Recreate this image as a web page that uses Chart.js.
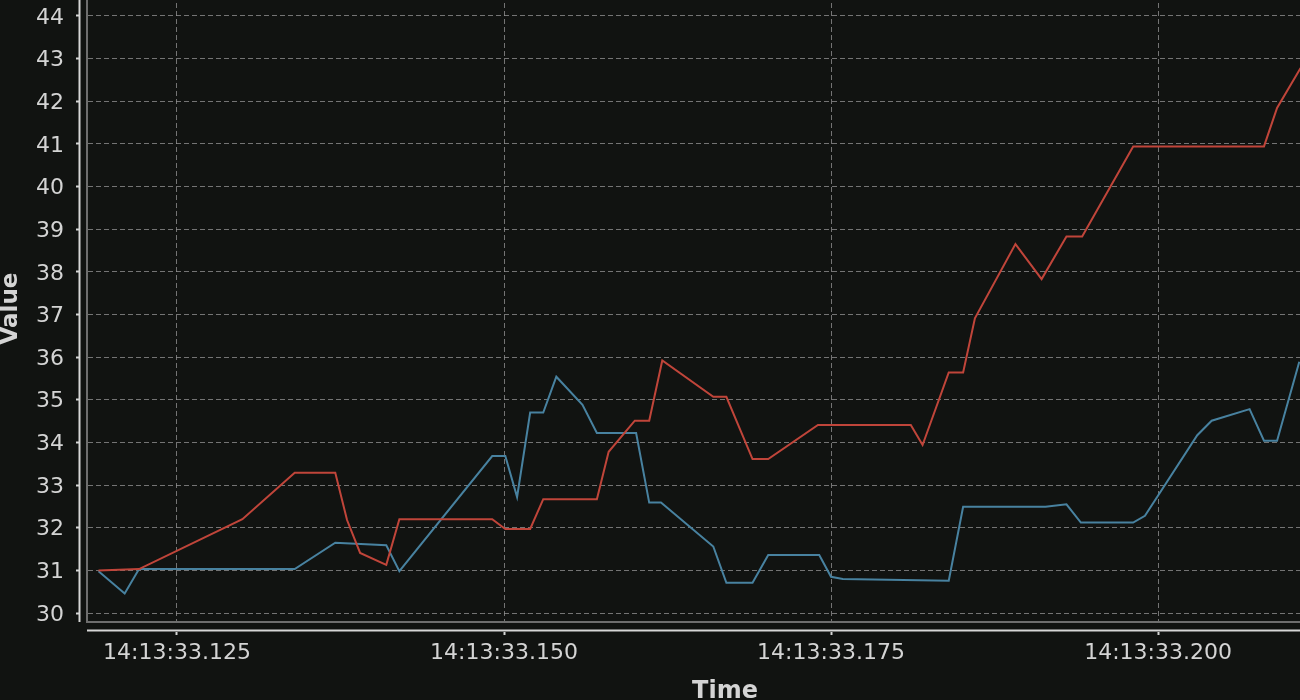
<!DOCTYPE html>
<html>
<head>
<meta charset="utf-8">
<title>Value / Time</title>
<script src="https://cdn.jsdelivr.net/npm/chart.js@4.4.1/dist/chart.umd.min.js"></script>
<style>
    html, body { margin: 0; background: #111311; overflow: hidden; }
    .chart-wrap { position: absolute; left: 0; top: -5px; width: 1363px; height: 711px; }
</style>
</head>
<body>
<div class="chart-wrap">
    <canvas id="chart" width="1363" height="711"></canvas>
</div>
<script>
// ── Data (time = milliseconds after 14:13:33) ────────────────────────────────
const redTimes = [119.0, 122.1, 130.0, 134.0, 137.1, 138.0, 139.0, 141.0, 142.0, 149.1, 150.1, 152.0,
    153.0, 157.1, 158.0, 160.0, 161.1, 162.1, 166.0, 167.0, 169.0, 170.2, 174.0, 181.1, 182.0, 184.0,
    185.1, 186.0, 189.1, 191.1, 193.0, 194.2, 198.1, 208.1, 209.1, 210.9];
const redValues = [31.0, 31.03, 32.2, 33.29, 33.29, 32.18, 31.41, 31.13, 32.2, 32.2, 31.97, 31.97,
    32.67, 32.67, 33.78, 34.51, 34.51, 35.92, 35.07, 35.07, 33.61, 33.61, 34.41, 34.41, 33.94, 35.64,
    35.64, 36.91, 38.65, 37.83, 38.83, 38.83, 40.94, 40.94, 41.84, 42.78];

const blueTimes = [119.0, 121.0, 122.1, 134.0, 137.1, 141.0, 142.0, 149.1, 150.1, 151.0, 152.0, 153.0,
    154.0, 156.0, 157.1, 160.1, 161.1, 162.0, 166.0, 167.0, 169.0, 170.2, 174.1, 175.0, 175.9, 184.0,
    185.1, 191.4, 193.0, 194.1, 198.1, 199.0, 203.0, 204.1, 207.0, 208.1, 209.1, 210.8];
const blueValues = [30.98, 30.46, 31.03, 31.03, 31.65, 31.59, 30.98, 33.68, 33.68, 32.72, 34.7, 34.7,
    35.54, 34.88, 34.22, 34.22, 32.59, 32.59, 31.56, 30.71, 30.71, 31.36, 31.36, 30.85, 30.8, 30.76,
    32.49, 32.49, 32.55, 32.12, 32.12, 32.28, 34.17, 34.51, 34.78, 34.04, 34.04, 35.89];

const xTickValues = [125, 150, 175, 200];
const yTickValues = [30, 31, 32, 33, 34, 35, 36, 37, 38, 39, 40, 41, 42, 43, 44];
const timePrefix = "14:13:33.";

// ── Styles ───────────────────────────────────────────────────────────────────
const FONT = "'DejaVu Sans', sans-serif";
const TEXT_COLOR = "#d4d4d4";
const GRID_COLOR = "rgba(150, 150, 150, 0.75)";
const FRAME_COLOR = "#6e6e6e";
const AXIS_COLOR = "#d6d6d6";

const toPoints = (xs, ys) => xs.map((x, i) => ({ x, y: ys[i] }));

// offset axis lines, drawn a few px outside the plot frame
const axisLines = {
    id: "axisLines",
    afterDraw(chart) {
        const { ctx, chartArea: a } = chart;
        ctx.save();
        ctx.strokeStyle = AXIS_COLOR;
        ctx.lineWidth = 2;
        ctx.beginPath();
        ctx.moveTo(a.left - 7.5, a.top);
        ctx.lineTo(a.left - 7.5, a.bottom);
        ctx.moveTo(a.left, a.bottom + 8.5);
        ctx.lineTo(a.right, a.bottom + 8.5);
        ctx.stroke();
        ctx.restore();
    },
};

new Chart(document.getElementById("chart"), {
    type: "line",
    data: {
        datasets: [
            {
                data: toPoints(redTimes, redValues),
                borderColor: "#c0453a",
                borderWidth: 2,
                pointRadius: 0,
                tension: 0,
            },
            {
                data: toPoints(blueTimes, blueValues),
                borderColor: "#4882a0",
                borderWidth: 2,
                pointRadius: 0,
                tension: 0,
            },
        ],
    },
    options: {
        responsive: false,
        animation: false,
        layout: { padding: 0 },
        plugins: {
            legend: { display: false },
            tooltip: { enabled: false },
        },
        scales: {
            x: {
                type: "linear",
                min: 118.12,
                max: 215.67,
                afterBuildTicks: (s) => { s.ticks = xTickValues.map((v) => ({ value: v })); },
                afterFit: (s) => { s.height = 84; s.paddingLeft = 0; s.paddingRight = 0; },
                ticks: {
                    color: TEXT_COLOR,
                    font: { family: FONT, size: 22 },
                    padding: 5,
                    autoSkip: false,
                    maxRotation: 0,
                    callback: (v) => timePrefix + v,
                },
                grid: {
                    color: GRID_COLOR,
                    lineWidth: 1,
                    tickLength: 13,
                    tickWidth: 2,
                    tickColor: AXIS_COLOR,
                    tickBorderDash: [0, 9, 4, 40],
                },
                border: { color: FRAME_COLOR, width: 2, dash: [5, 3] },
                title: {
                    display: true,
                    text: "Time",
                    color: TEXT_COLOR,
                    font: { family: FONT, size: 24, weight: "bold" },
                    padding: { top: 0, bottom: 0 },
                },
            },
            y: {
                min: 29.79,
                max: 44.49,
                afterBuildTicks: (s) => { s.ticks = yTickValues.map((v) => ({ value: v })); },
                afterFit: (s) => { s.width = 87; s.paddingTop = 0; s.paddingBottom = 0; },
                ticks: {
                    color: TEXT_COLOR,
                    font: { family: FONT, size: 22 },
                    padding: 12,
                    labelOffset: 2,
                    autoSkip: false,
                },
                grid: {
                    color: GRID_COLOR,
                    lineWidth: 1,
                    tickLength: 11,
                    tickWidth: 2,
                    tickColor: AXIS_COLOR,
                    tickBorderDash: [3, 40],
                },
                border: { color: FRAME_COLOR, width: 2, dash: [5, 3] },
                title: {
                    display: true,
                    text: "Value",
                    color: TEXT_COLOR,
                    font: { family: FONT, size: 23, weight: "bold", lineHeight: 1 },
                    padding: { top: 0, bottom: 0 },
                },
            },
        },
    },
    plugins: [axisLines],
});
</script>
</body>
</html>
